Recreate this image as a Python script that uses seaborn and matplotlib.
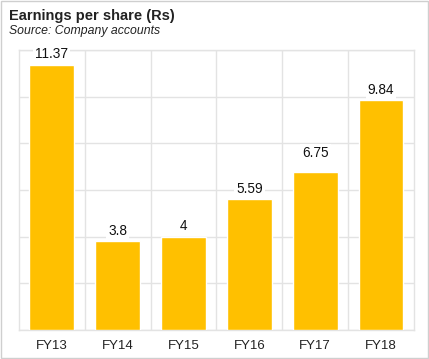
import pandas as pd
import matplotlib
import seaborn as sns
matplotlib.use('AGG')
import matplotlib.pyplot as plt
from matplotlib.patches import Rectangle

years = ['FY13', 'FY14', 'FY15', 'FY16', 'FY17', 'FY18']
eps = [11.37, 3.8, 4, 5.59, 6.75, 9.84]
eps_labels = ['11.37', '3.8', '4', '5.59', '6.75', '9.84']

df = pd.DataFrame({'year': years, 'eps': eps})

sns.set_theme(style='white')
plt.rcParams['font.family'] = ['Liberation Sans', 'DejaVu Sans']

fig = plt.figure(figsize=(4.29, 3.59), dpi=100)
ax = fig.add_axes([0.044, 0.081, 0.921, 0.78])

sns.barplot(data=df, x='year', y='eps', color='#FFC000', saturation=1,
            width=0.68, ax=ax, zorder=3)

ax.set_ylim(0, 12)
ax.set_xlim(-0.5, 5.5)
ax.set_yticks(range(0, 13, 2))
ax.set_yticklabels([])
ax.set_xticks(range(len(years)))
ax.set_xticklabels(years, fontsize=9.5, color='#222222')
ax.tick_params(axis='both', length=0, pad=7)
ax.set_xlabel('')
ax.set_ylabel('')
ax.grid(True, axis='y', color='#e3e3e3', linewidth=1, zorder=0)
for x in [0.5, 1.5, 2.5, 3.5, 4.5]:
    ax.axvline(x, color='#e3e3e3', linewidth=1, zorder=0)
for s in ax.spines.values():
    s.set_color('#e3e3e3')
    s.set_linewidth(1)

# the FY17 label sits a little higher in the original
for i, (v, lab) in enumerate(zip(eps, eps_labels)):
    dy = 9 if years[i] == 'FY17' else 2.5
    ax.annotate(lab, (i, v), xytext=(0, dy), textcoords='offset points',
                ha='center', va='bottom', fontsize=9.8, color='#111111',
                bbox=dict(boxstyle='square,pad=0.15', fc='white', ec='none'),
                zorder=5, annotation_clip=False)

fig.text(0.021, 0.955, 'Earnings per share (Rs)', fontsize=10.5,
         fontweight='bold', color='#222222', va='center')
fig.text(0.021, 0.915, 'Source: Company accounts', fontsize=8.8,
         fontstyle='italic', color='#222222', va='center')

fig.patches.append(Rectangle((0.003, 0.003), 0.994, 0.994, transform=fig.transFigure,
                             fill=False, edgecolor='#cfcfcf', linewidth=1))

fig.savefig('out.png', dpi=100)
plt.close(fig)
